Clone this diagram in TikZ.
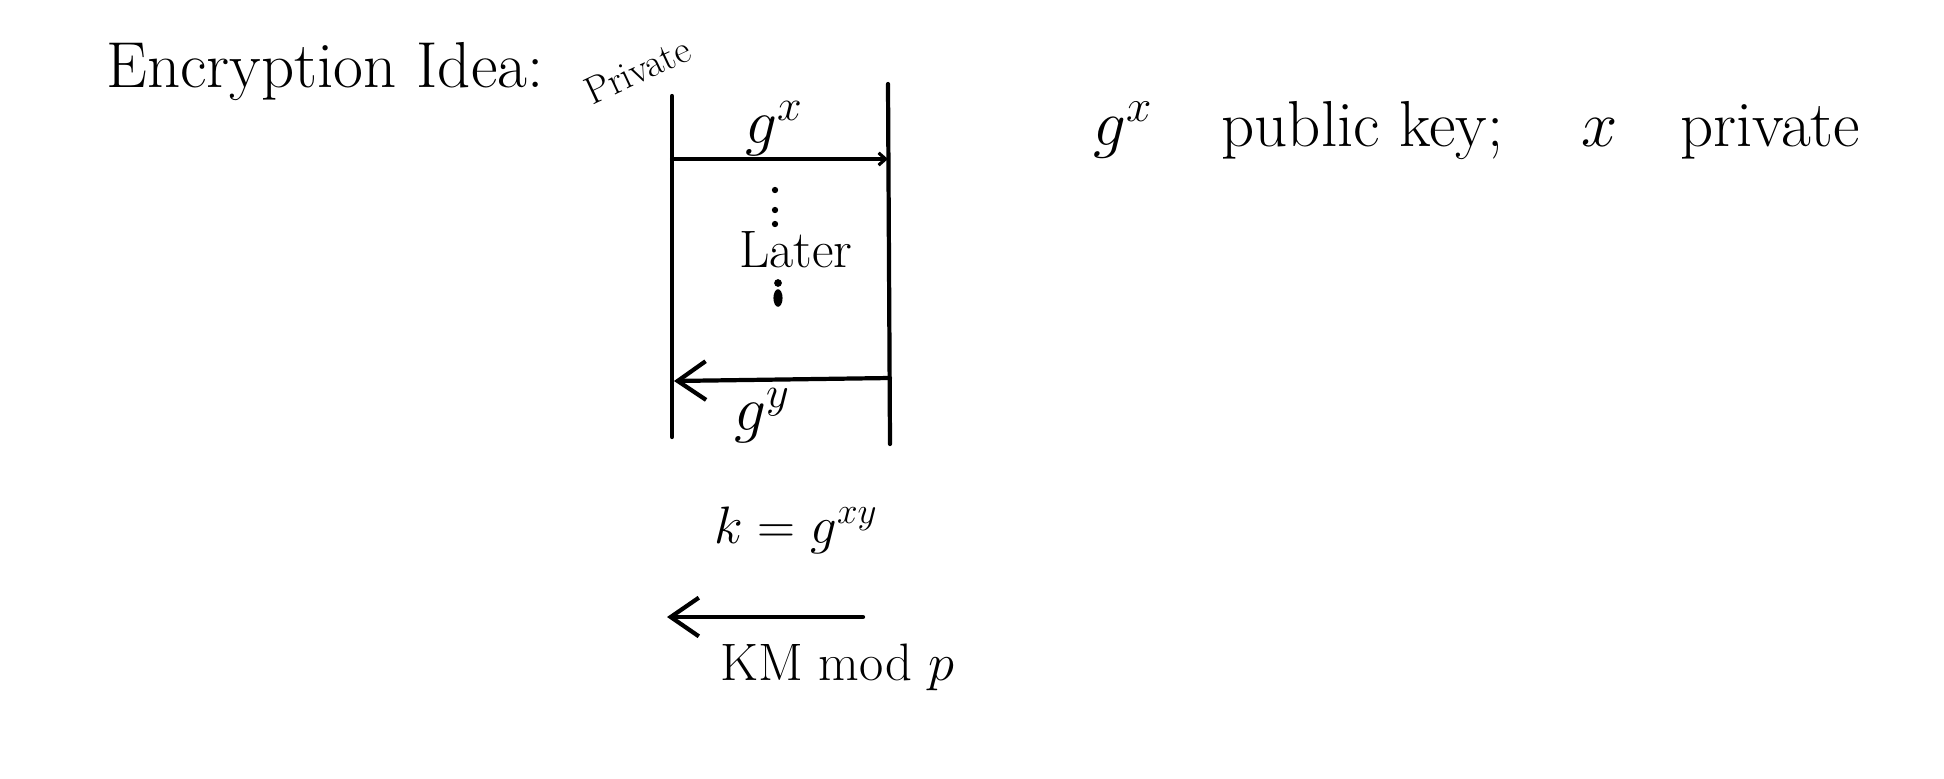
\RequirePackage{fix-cm}
\documentclass[tikz,border=0pt]{standalone}
\usetikzlibrary{arrows.meta}
\begin{document}
\begin{tikzpicture}[x=0.02cm,y=-0.02cm,
  ink/.style={line width=2.4pt, line cap=round, line join=round},
  big/.style={inner sep=0pt, font=\fontsize{37}{42}\selectfont},
  mid/.style={inner sep=0pt, font=\fontsize{30}{36}\selectfont},
  small/.style={inner sep=0pt, font=\fontsize{22}{26}\selectfont},
  bigbarb/.style={-{Straight Barb[length=16pt,width=22pt,line width=2.4pt]}},
  smallbarb/.style={-{Straight Barb[length=4pt,width=7pt,line width=1.8pt]}}]
\useasboundingbox (0,0) rectangle (1944,778);
% title
\node[big, anchor=base west] (enc) at (106,87) {Encryption Idea:};
\node[small, rotate=25, anchor=base west] (priv) at (592,106) {Private};
% box
\coordinate (lt) at (672,96);
\coordinate (lb) at (672,437);
\coordinate (rt) at (888,84);
\coordinate (rb) at (890,444);
\coordinate (tl) at (672,159);
\coordinate (tr) at (888,159);
\coordinate (bl) at (674,381);
\coordinate (br) at (890,378);
\draw[ink] (lt) -- (lb);
\draw[ink] (rt) -- (rb);
\draw[ink, smallbarb] (tl) -- (tr);
\draw[ink, bigbarb] (br) -- (bl);
\node[inner sep=0pt, font=\fontsize{36}{40}\selectfont, anchor=base] (gxa) at (774,143) {$g^x$};
\fill (775,190) circle[radius=1.8pt];
\fill (775,210) circle[radius=1.8pt];
\fill (775,224) circle[radius=1.8pt];
\node[mid, anchor=base] (later) at (796,267) {Later};
\fill (778,283) circle[radius=2.2pt];
\fill (778,298) ellipse[x radius=2.6pt, y radius=5pt];
\node[inner sep=0pt, font=\fontsize{36}{40}\selectfont, anchor=base] (gya) at (762,430) {$g^y$};
% key
\node[mid, anchor=base] (key) at (796,543) {$k=g^{xy}$};
\coordinate (a1) at (863,617);
\coordinate (a0) at (667,617);
\draw[ink, bigbarb] (a1) -- (a0);
\node[mid, anchor=base west] (km) at (720,680) {KM mod $p$};
% right text
\node[big, anchor=base west] (gxb) at (1093,145) {$g^x$};
\node[big, anchor=base west] (pk) at (1221,146) {public key;};
\node[big, anchor=base west] (xv) at (1581,146) {$x$};
\node[big, anchor=base west] (prv) at (1680,146) {private};
\end{tikzpicture}
\end{document}
